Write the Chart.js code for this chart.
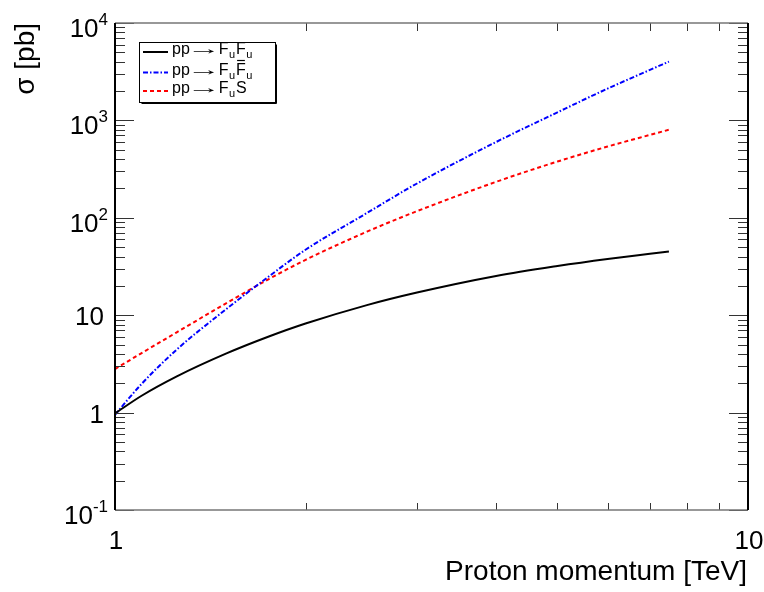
<!DOCTYPE html>
<html>
<head>
<meta charset="utf-8">
<script src="https://cdn.jsdelivr.net/npm/chart.js@4.4.0/dist/chart.umd.min.js"></script>
<style>
html, body { margin: 0; padding: 0; background: #fff; }
#wrap { width: 764px; height: 592px; }
</style>
</head>
<body>
<div id="wrap"><canvas id="chart" width="764" height="592"></canvas></div>
<script>
// proton momentum [TeV] and cross sections [pb]
const momentum     = [1, 1.1, 1.25, 1.5, 1.75, 2, 2.5, 3, 4, 5, 6, 7, 7.5];
const sigmaFuFu    = [0.98, 1.48, 2.34, 4.05, 6.04, 8.21, 12.7, 17.1, 25.3, 32, 37.8, 42.8, 45.2];
const sigmaFuFubar = [0.95, 1.95, 4.4, 11.6, 25, 47, 112, 225, 600, 1210, 2120, 3300, 4017];
const sigmaFuS     = [2.8, 4.06, 6.64, 13.3, 23.5, 37, 72, 117, 234, 378, 539, 710, 801];

const xTicks = [1, 2, 3, 4, 5, 6, 7, 8, 9, 10];
const xLabelValues = [1, 10];
const xLabelTexts = ['1', '10'];
const yMajor = [0.1, 1, 10, 100, 1000, 10000];
const yLabels = ['10^-1', '1', '10', '10^2', '10^3', '10^4'];

const legendColors = ['#000000', '#0000ff', '#ff0000'];
const legendDashes = [[], [5, 2, 1.5, 2], [4, 3]];

const FONT = '"Liberation Sans", Arial, Helvetica, sans-serif';

function pts(ys) {
    return momentum.map((m, i) => ({x: m, y: ys[i]}));
}

// legend text pieces: t = text, s = subscript, b = overbar, a = stretched arrow
const legendText = [
    [{t: 'pp '}, {t: '\u2192', a: true}, {t: ' F'}, {t: 'u', s: true}, {t: 'F'}, {t: 'u', s: true}],
    [{t: 'pp '}, {t: '\u2192', a: true}, {t: ' F'}, {t: 'u', s: true}, {t: 'F', b: true}, {t: 'u', s: true}],
    [{t: 'pp '}, {t: '\u2192', a: true}, {t: ' F'}, {t: 'u', s: true}, {t: 'S'}]
];

const frame = {
    id: 'frame',
    afterDatasetsDraw(chart) {
        const ctx = chart.ctx;
        const a = chart.chartArea;
        const x = chart.scales.x;
        const y = chart.scales.y;
        ctx.save();

        // y ticks, left and right, pointing inward
        ctx.strokeStyle = '#333';
        ctx.lineWidth = 1;
        ctx.beginPath();
        yMajor.forEach((d, k) => {
            const py = Math.round(y.getPixelForValue(d)) + 0.5;
            ctx.moveTo(a.left, py); ctx.lineTo(a.left + 19, py);
            ctx.moveTo(a.right, py); ctx.lineTo(a.right - 19, py);
            if (k < yMajor.length - 1) {
                for (let m = 2; m <= 9; m++) {
                    const q = Math.round(y.getPixelForValue(d * m)) + 0.5;
                    ctx.moveTo(a.left, q); ctx.lineTo(a.left + 10, q);
                    ctx.moveTo(a.right, q); ctx.lineTo(a.right - 10, q);
                }
            }
        });
        // x ticks, bottom and top
        xTicks.forEach(v => {
            const px = Math.round(x.getPixelForValue(v)) + 0.5;
            const len = (v === 1 || v === 10) ? 14 : 7;
            ctx.moveTo(px, a.bottom); ctx.lineTo(px, a.bottom - len);
            ctx.moveTo(px, a.top); ctx.lineTo(px, a.top + len + 1);
        });
        ctx.stroke();

        // frame
        ctx.strokeStyle = '#777';
        ctx.lineWidth = 1.5;
        ctx.beginPath();
        ctx.moveTo(a.left, a.top); ctx.lineTo(a.right, a.top);
        ctx.moveTo(a.left, a.bottom); ctx.lineTo(a.right, a.bottom);
        ctx.stroke();
        ctx.strokeStyle = '#000';
        ctx.lineWidth = 2;
        ctx.beginPath();
        ctx.moveTo(a.left, a.top); ctx.lineTo(a.left, a.bottom);
        ctx.moveTo(a.right, a.top); ctx.lineTo(a.right, a.bottom);
        ctx.stroke();

        // y labels
        ctx.fillStyle = '#000';
        ctx.textBaseline = 'alphabetic';
        yLabels.forEach((lab, k) => {
            const py = y.getPixelForValue(yMajor[k]);
            const parts = lab.split('^');
            ctx.font = '26px ' + FONT;
            if (parts.length === 1) {
                ctx.textAlign = 'right';
                ctx.fillText(parts[0], 104, py + 10);
            } else {
                ctx.font = '17px ' + FONT;
                const we = ctx.measureText(parts[1]).width;
                ctx.textAlign = 'right';
                ctx.fillText(parts[1], 108, py + 2);
                ctx.font = '26px ' + FONT;
                ctx.fillText(parts[0], 108 - we, py + 14);
            }
        });

        // x labels
        ctx.font = '26px ' + FONT;
        ctx.textAlign = 'center';
        xLabelValues.forEach((v, k) => {
            ctx.fillText(xLabelTexts[k], x.getPixelForValue(v) + 1, 549);
        });

        // axis titles
        ctx.font = '28px ' + FONT;
        ctx.textAlign = 'right';
        ctx.fillText('Proton momentum [TeV]', 747, 580);
        ctx.save();
        ctx.translate(34, 23);
        ctx.rotate(-Math.PI / 2);
        ctx.fillText('\u03c3 [pb]', 0, 0);
        ctx.restore();

        // legend box
        const bx = 139.5, by = 42.5, bw = 136, bh = 60;
        ctx.fillStyle = '#fff';
        ctx.fillRect(bx, by, bw, bh);
        ctx.strokeStyle = '#000';
        ctx.lineWidth = 1;
        ctx.strokeRect(bx, by, bw, bh);
        ctx.beginPath();
        ctx.moveTo(bx + bw + 1, by + 2); ctx.lineTo(bx + bw + 1, by + bh + 1); ctx.lineTo(bx + 2, by + bh + 1);
        ctx.stroke();

        const rowY = [52, 72.5, 91];
        chart.data.datasets.forEach((ds, i) => {
            ctx.strokeStyle = legendColors[i];
            ctx.lineWidth = 2;
            ctx.setLineDash(legendDashes[i]);
            ctx.beginPath();
            ctx.moveTo(143, rowY[i]); ctx.lineTo(168, rowY[i]);
            ctx.stroke();
            ctx.setLineDash([]);

            let tx = 172;
            const base = rowY[i] + 2;
            ctx.fillStyle = '#000';
            ctx.textAlign = 'left';
            legendText[i].forEach(p => {
                if (p.s) {
                    ctx.font = '11px ' + FONT;
                    ctx.fillText(p.t, tx + 0.5, base + 4);
                    tx += ctx.measureText(p.t).width + 1.5;
                } else if (p.a) {
                    ctx.font = '16px ' + FONT;
                    const w = ctx.measureText(p.t).width;
                    ctx.save();
                    ctx.textAlign = 'center';
                    ctx.translate(tx + 10, base);
                    ctx.scale(21 / (0.62 * w), 1);
                    ctx.fillText(p.t, 0, 0);
                    ctx.restore();
                    tx += 20;
                } else {
                    ctx.font = '16px ' + FONT;
                    ctx.fillText(p.t, tx, base);
                    const w = ctx.measureText(p.t).width;
                    if (p.b) {
                        ctx.strokeStyle = '#000';
                        ctx.lineWidth = 1.2;
                        ctx.beginPath();
                        ctx.moveTo(tx + 1, base - 14); ctx.lineTo(tx + w - 1, base - 14);
                        ctx.stroke();
                    }
                    tx += w;
                }
            });
        });

        ctx.restore();
    }
};

new Chart(document.getElementById('chart'), {
    type: 'line',
    data: {
        datasets: [{
            label: 'pp \u2192 FuFu',
            data: pts(sigmaFuFu),
            borderColor: '#000000',
            borderWidth: 2,
            pointRadius: 0,
            fill: false,
            cubicInterpolationMode: 'monotone'
        }, {
            label: 'pp \u2192 FuFubar',
            data: pts(sigmaFuFubar),
            borderColor: '#0000ff',
            borderWidth: 2,
            borderDash: [5, 2, 1.5, 2],
            pointRadius: 0,
            fill: false,
            cubicInterpolationMode: 'monotone'
        }, {
            label: 'pp \u2192 FuS',
            data: pts(sigmaFuS),
            borderColor: '#ff0000',
            borderWidth: 2,
            borderDash: [4, 3],
            pointRadius: 0,
            fill: false,
            cubicInterpolationMode: 'monotone'
        }]
    },
    options: {
        responsive: false,
        animation: false,
        layout: {padding: {left: 115, right: 16, top: 23, bottom: 82}},
        plugins: {legend: {display: false}, tooltip: {enabled: false}},
        scales: {
            x: {type: 'logarithmic', min: 1, max: 10, display: false},
            y: {type: 'logarithmic', min: 0.1, max: 10000, display: false}
        }
    },
    plugins: [frame]
});
</script>
</body>
</html>
